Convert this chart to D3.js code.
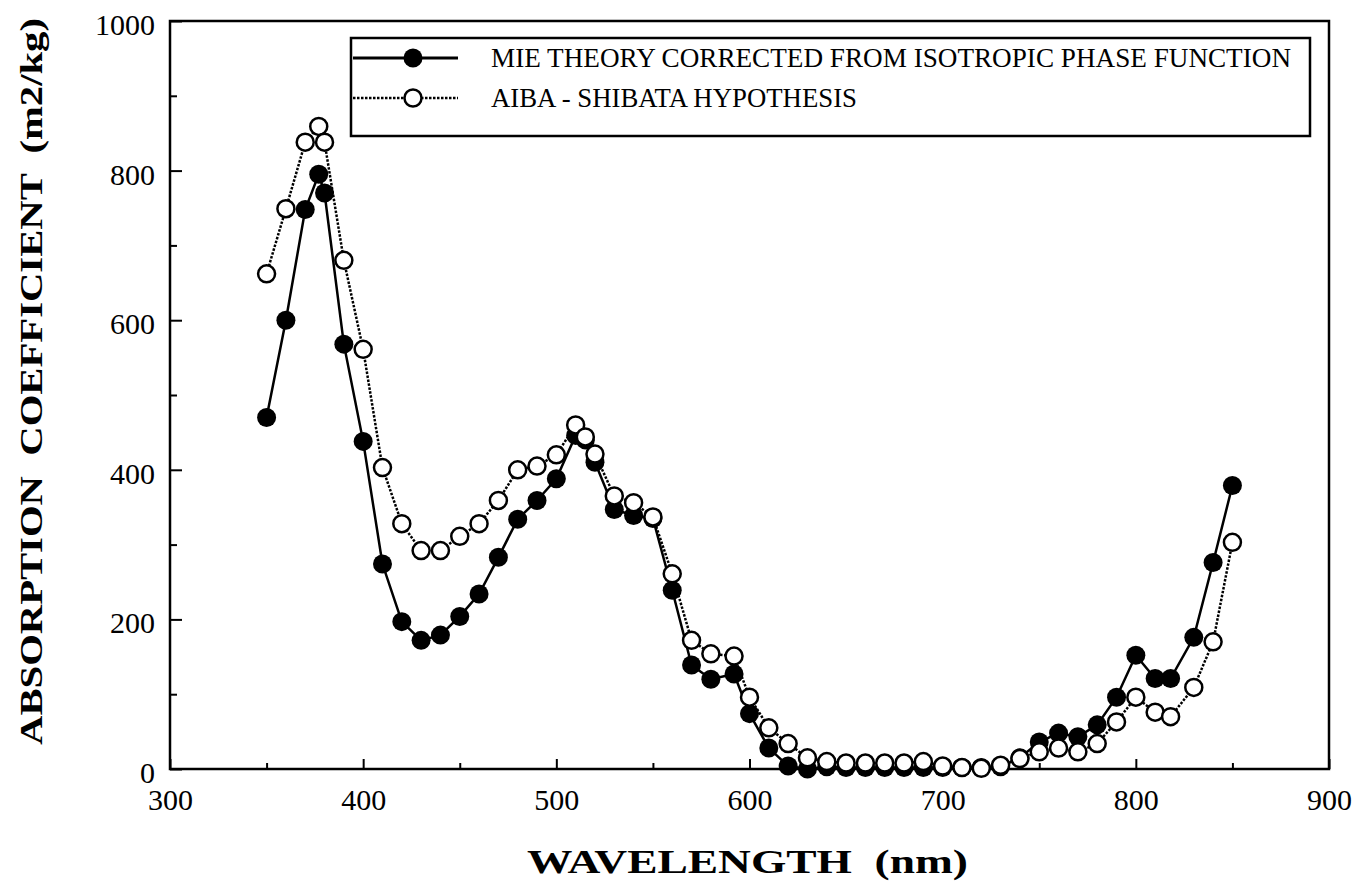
<!DOCTYPE html>
<html>
<head>
<meta charset="utf-8">
<script src="https://cdn.jsdelivr.net/npm/d3@7/dist/d3.min.js"></script>
<style>
  html, body { margin: 0; padding: 0; background: #fff; }
  svg { display: block; }
  text { font-family: "Liberation Serif", serif; fill: #000; }
</style>
</head>
<body>
<svg id="chart" width="1360" height="894"></svg>
<script>
// Wavelengths (nm) at which both absorption estimates are given
const wavelengths = [350, 360, 370, 377, 380, 390, 400, 410, 420, 430,
  440, 450, 460, 470, 480, 490, 500, 510, 515, 520,
  530, 540, 550, 560, 570, 580, 592, 600, 610, 620,
  630, 640, 650, 660, 670, 680, 690, 700, 710, 720,
  730, 740, 750, 760, 770, 780, 790, 800, 810, 818,
  830, 840, 850];

// Mie theory corrected from isotropic phase function (m2/kg)
const mieValues = [470, 600, 748, 795, 770, 568, 438, 274, 197, 172,
  179, 204, 234, 283, 334, 359, 388, 446, 440, 410,
  347, 339, 335, 239, 139, 120, 127, 74, 28, 4,
  0, 3, 2, 2, 2, 2, 2, 2, 2, 2,
  3, 15, 36, 48, 43, 59, 96, 152, 121, 121,
  176, 276, 379];

// Aiba - Shibata hypothesis (m2/kg)
const aibaValues = [662, 749, 838, 859, 838, 680, 561, 403, 328, 292,
  292, 311, 328, 359, 400, 405, 420, 460, 444, 421,
  365, 356, 337, 261, 172, 154, 151, 96, 55, 34,
  15, 10, 8, 8, 8, 8, 10, 4, 2, 1,
  5, 14, 23, 28, 23, 34, 63, 96, 76, 70,
  109, 170, 303];

const seriesNames = ["MIE THEORY CORRECTED FROM ISOTROPIC PHASE FUNCTION",
                     "AIBA - SHIBATA HYPOTHESIS"];

const xMajorTicks = [300, 400, 500, 600, 700, 800, 900];
const xMinorTicks = [350, 450, 550, 650, 750, 850];
const yMajorTicks = [0, 200, 400, 600, 800, 1000];
const yMinorTicks = [100, 300, 500, 700, 900];

const xTitle = "WAVELENGTH  (nm)";
const yTitle = "ABSORPTION  COEFFICIENT  (m2/kg)";

const serifStack = '"Liberation Serif", serif';

const svg = d3.select("#chart");
const plot = { left: 170, right: 1329, top: 21, bottom: 769 };

const x = d3.scaleLinear().domain([300, 900]).range([plot.left, plot.right]);
const y = d3.scaleLinear().domain([0, 1000]).range([plot.bottom, plot.top]);

// Plot frame
svg.append("rect")
  .attr("x", plot.left).attr("y", plot.top)
  .attr("width", plot.right - plot.left).attr("height", plot.bottom - plot.top)
  .attr("fill", "none").attr("stroke", "#000").attr("stroke-width", 2.5);

// Bottom axis: inward ticks, labels on the major ones
const xAxisMajor = d3.axisBottom(x).tickValues(xMajorTicks).tickSize(-10).tickPadding(4)
  .tickFormat(d3.format("d"));
const gx = svg.append("g").attr("transform", `translate(0,${plot.bottom})`).call(xAxisMajor);
const xAxisMinor = d3.axisBottom(x).tickValues(xMinorTicks).tickSize(-6).tickFormat("");
const gx2 = svg.append("g").attr("transform", `translate(0,${plot.bottom})`).call(xAxisMinor);

// Left axis: inward ticks
const yAxisMajor = d3.axisLeft(y).tickValues(yMajorTicks).tickSize(-12).tickPadding(15)
  .tickFormat(d3.format("d"));
const gy = svg.append("g").attr("transform", `translate(${plot.left},0)`).call(yAxisMajor);
const yAxisMinor = d3.axisLeft(y).tickValues(yMinorTicks).tickSize(-7).tickFormat("");
const gy2 = svg.append("g").attr("transform", `translate(${plot.left},0)`).call(yAxisMinor);

[gx, gx2, gy, gy2].forEach(g => {
  g.attr("font-family", serifStack).attr("font-size", 30);
  g.select(".domain").remove();
  g.selectAll(".tick line").attr("stroke", "#000").attr("stroke-width", 2);
  g.selectAll(".tick text").attr("fill", "#000");
});
gx.selectAll(".tick text").attr("y", 20).attr("dy", "0.71em");
gy.selectAll(".tick text").attr("dy", "0.45em");

// Axis titles
svg.append("text")
  .attr("x", 527).attr("y", 873)
  .attr("textLength", 441).attr("lengthAdjust", "spacingAndGlyphs")
  .attr("font-family", serifStack)
  .style("font-size", "33px").style("font-weight", "bold")
  .style("white-space", "pre")
  .text(xTitle);

svg.append("text")
  .attr("transform", "translate(42,745) rotate(-90)")
  .attr("textLength", 727).attr("lengthAdjust", "spacingAndGlyphs")
  .attr("font-family", serifStack)
  .style("font-size", "32px").style("font-weight", "bold")
  .style("white-space", "pre")
  .text(yTitle);

// Series
const mieData = wavelengths.map((w, i) => ({ w, v: mieValues[i] }));
const aibaData = wavelengths.map((w, i) => ({ w, v: aibaValues[i] }));

const line = d3.line().x(d => x(d.w)).y(d => y(d.v));

svg.append("path").datum(mieData)
  .attr("d", line).attr("fill", "none")
  .attr("stroke", "#000").attr("stroke-width", 2.5);

svg.append("g").selectAll("circle").data(mieData).join("circle")
  .attr("cx", d => x(d.w)).attr("cy", d => y(d.v)).attr("r", 9.5)
  .attr("fill", "#000");

svg.append("path").datum(aibaData)
  .attr("d", line).attr("fill", "none")
  .attr("stroke", "#000").attr("stroke-width", 2.5)
  .attr("stroke-dasharray", "2.5,1.5");

svg.append("g").selectAll("circle").data(aibaData).join("circle")
  .attr("cx", d => x(d.w)).attr("cy", d => y(d.v)).attr("r", 8.5)
  .attr("fill", "#fff").attr("stroke", "#000").attr("stroke-width", 2.5);

// Legend
const legend = svg.append("g");
legend.append("rect")
  .attr("x", 351).attr("y", 38).attr("width", 959).attr("height", 98)
  .attr("fill", "#fff").attr("stroke", "#000").attr("stroke-width", 2.5);

const legendRows = [
  { name: seriesNames[0], y: 58, filled: true, textLen: 800 },
  { name: seriesNames[1], y: 98, filled: false, textLen: 366 }
];
legendRows.forEach(r => {
  legend.append("line")
    .attr("x1", 353).attr("x2", 458).attr("y1", r.y).attr("y2", r.y)
    .attr("stroke", "#000").attr("stroke-width", r.filled ? 3 : 2.5)
    .attr("stroke-dasharray", r.filled ? null : "2.5,1.5");
  legend.append("circle")
    .attr("cx", 413).attr("cy", r.y).attr("r", r.filled ? 9.5 : 8.5)
    .attr("fill", r.filled ? "#000" : "#fff")
    .attr("stroke", "#000").attr("stroke-width", r.filled ? 0 : 2.5);
  legend.append("text")
    .attr("x", 491).attr("y", r.y + 9)
    .attr("textLength", r.textLen).attr("lengthAdjust", "spacingAndGlyphs")
    .attr("font-family", serifStack)
    .style("font-size", "27px")
    .text(r.name);
});
</script>
</body>
</html>
